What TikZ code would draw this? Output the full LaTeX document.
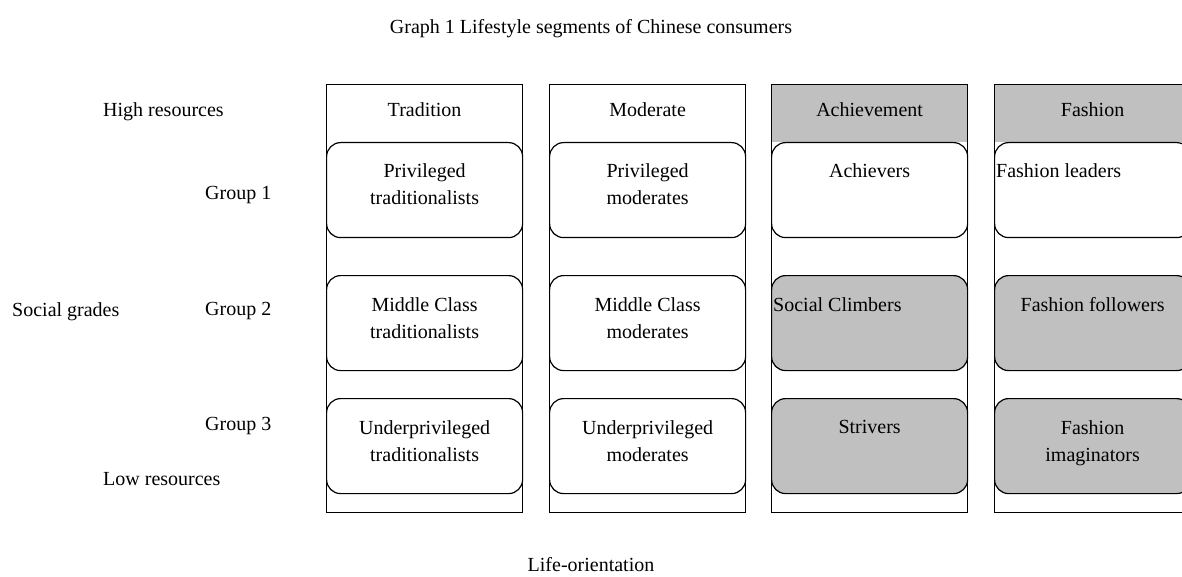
\documentclass[tikz,border=0pt]{standalone}
\usepackage{fontspec}
\setmainfont{Liberation Serif}
\definecolor{shade}{RGB}{192,192,192}
\begin{document}
\begin{tikzpicture}[x=1pt, y=-1pt,
      every node/.style={font=\fontsize{20}{27}\selectfont, inner sep=0pt},
      column/.style={rectangle, draw=black, line width=1.2pt, minimum width=196pt, minimum height=428pt, anchor=north west},
      header/.style={rectangle, fill=shade, minimum width=196pt, minimum height=58pt, anchor=north west},
      segment/.style={rectangle, draw=black, line width=1.2pt, fill=white, rounded corners=14pt, minimum width=196pt, minimum height=95pt, anchor=north west},
      greyseg/.style={segment, fill=shade},
      segtext/.style={align=center, anchor=north},
      sidetext/.style={anchor=north west}
  ]
    \useasboundingbox (0,0) rectangle (1182,577);
    \node[anchor=north] (title) at (591,19) {Graph 1 Lifestyle segments of Chinese consumers};

    % grey headers first, column frames on top
    \node[header] (achhead) at (771,84) {};
    \node[header] (fashead) at (994,84) {};
    \node[column] (trad) at (326,84) {};
    \node[column] (mod) at (549,84) {};
    \node[column] (ach) at (771,84) {};
    \node[column] (fas) at (994,84) {};

    \foreach \c/\t in {trad/Tradition,mod/Moderate,ach/Achievement,fas/Fashion} {
      \node[segtext] (\c-name) at ([yshift=-18pt]\c.north) {\t};
    }

    % segment boxes
    \foreach \c in {trad,mod} {
      \node[segment] (\c1) at ([yshift=-58pt]\c.north west) {};
      \node[segment] (\c2) at ([yshift=-191pt]\c.north west) {};
      \node[segment] (\c3) at ([yshift=-314pt]\c.north west) {};
    }
    \node[segment] (ach1) at ([yshift=-58pt]ach.north west) {};
    \node[greyseg] (ach2) at ([yshift=-191pt]ach.north west) {};
    \node[greyseg] (ach3) at ([yshift=-314pt]ach.north west) {};
    \node[segment] (fas1) at ([yshift=-58pt]fas.north west) {};
    \node[greyseg] (fas2) at ([yshift=-191pt]fas.north west) {};
    \node[greyseg] (fas3) at ([yshift=-314pt]fas.north west) {};

    \node[segtext] (trad1-text) at ([yshift=-21pt]trad1.north) {Privileged\\traditionalists};
    \node[segtext] (trad2-text) at ([yshift=-22pt]trad2.north) {Middle Class\\traditionalists};
    \node[segtext] (trad3-text) at ([yshift=-22pt]trad3.north) {Underprivileged\\traditionalists};
    \node[segtext] (mod1-text) at ([yshift=-21pt]mod1.north) {Privileged\\moderates};
    \node[segtext] (mod2-text) at ([yshift=-22pt]mod2.north) {Middle Class\\moderates};
    \node[segtext] (mod3-text) at ([yshift=-22pt]mod3.north) {Underprivileged\\moderates};
    \node[segtext] (ach1-text) at ([yshift=-21pt]ach1.north) {Achievers};
    \node[sidetext] (ach2-text) at ([xshift=2pt,yshift=-22pt]ach2.north west) {Social Climbers};
    \node[segtext] (ach3-text) at ([yshift=-22pt]ach3.north) {Strivers};
    \node[sidetext] (fas1-text) at ([xshift=2pt,yshift=-21pt]fas1.north west) {Fashion leaders};
    \node[segtext] (fas2-text) at ([yshift=-22pt]fas2.north) {Fashion followers};
    \node[segtext] (fas3-text) at ([yshift=-22pt]fas3.north) {Fashion\\imaginators};

    % row labels on the left
    \node[sidetext] (high) at (103,102) {High resources};
    \node[sidetext] (grp1) at (205,186) {Group 1};
    \node[sidetext] (social) at (12,302) {Social grades};
    \node[sidetext] (grp2) at (205,302) {Group 2};
    \node[sidetext] (grp3) at (205,417) {Group 3};
    \node[sidetext] (low) at (103,472) {Low resources};

    \node[anchor=north] (orient) at (591,557) {Life-orientation};
  \end{tikzpicture}
\end{document}
